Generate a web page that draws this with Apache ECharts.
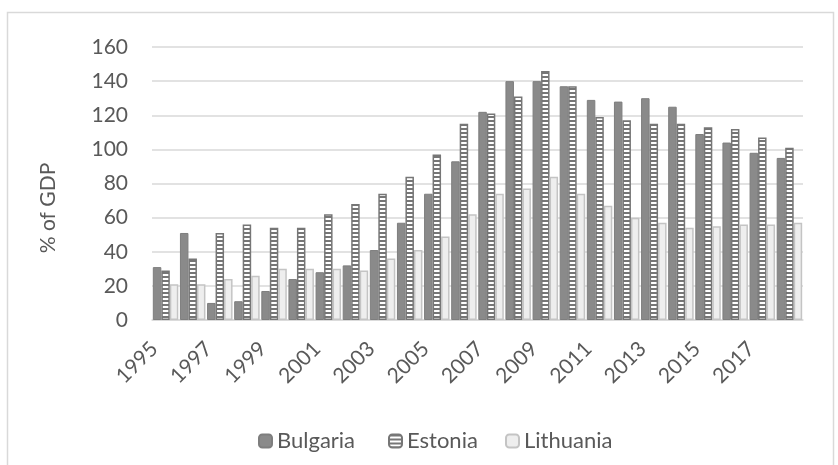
<!DOCTYPE html>
<html>
<head>
<meta charset="utf-8">
<script src="https://cdn.jsdelivr.net/npm/echarts@6/dist/echarts.min.js"></script>
<style>
  html, body { margin: 0; padding: 0; background: #ffffff; }
  #chart { width: 838px; height: 465px; }
</style>
</head>
<body>
<div id="chart"></div>
<script>
// Government debt, % of GDP
const years = ['1995','1996','1997','1998','1999','2000','2001','2002','2003','2004','2005','2006',
               '2007','2008','2009','2010','2011','2012','2013','2014','2015','2016','2017','2018'];
const bulgaria  = [31, 51, 10, 11, 17, 24, 28, 32, 41, 57, 74, 93, 122, 140, 140, 137, 129, 128, 130, 125, 109, 104, 98, 95];
const estonia   = [29, 36, 51, 56, 54, 54, 62, 68, 74, 84, 97, 115, 121, 131, 146, 137, 119, 117, 115, 115, 113, 112, 107, 101];
const lithuania = [21, 21, 24, 26, 30, 30, 30, 29, 36, 41, 49, 62, 74, 77, 84, 74, 67, 60, 57, 54, 55, 56, 56, 57];
const countries = ['Bulgaria', 'Estonia', 'Lithuania'];
const yTicks = { min: 0, max: 160, step: 20 };

const FONT = 'Lato';
const TEXT = '#595959';

// horizontal stripe fill for the Estonia bars
function stripePattern() {
  const c = document.createElement('canvas');
  c.width = 4; c.height = 4;
  const g = c.getContext('2d');
  g.fillStyle = '#ffffff';
  g.fillRect(0, 0, 4, 4);
  g.fillStyle = '#767676';
  g.fillRect(0, 0, 4, 2);
  return { image: c, repeat: 'repeat' };
}

// one legend block per country so each entry sits at its own x
const legendX = [253, 383, 500];
const legends = countries.map((name, i) => ({
  left: legendX[i], top: 425,
  itemWidth: 13, itemHeight: 13,
  textStyle: { fontSize: 22, color: TEXT, fontFamily: FONT },
  data: [name]
}));

const chart = echarts.init(document.getElementById('chart'));
chart.setOption({
  animation: false,
  backgroundColor: '#ffffff',
  textStyle: { fontFamily: FONT },
  graphic: [
    {
      type: 'rect', z: -10, silent: true,
      shape: { x: 7.5, y: 12.5, width: 826, height: 470 },
      style: { fill: '#ffffff', stroke: '#d9d9d9', lineWidth: 1.5 }
    },
    {
      type: 'text', x: 48, y: 208, rotation: Math.PI / 2,
      style: { text: '% of GDP', font: '21px ' + FONT, fill: TEXT, align: 'center', verticalAlign: 'middle' }
    }
  ],
  grid: { left: 152, right: 35, top: 47, bottom: 145 },
  legend: legends,
  xAxis: {
    type: 'category',
    data: years,
    axisTick: { show: false },
    axisLine: { lineStyle: { color: '#d9d9d9', width: 1.5 } },
    axisLabel: { interval: 1, rotate: 45, fontSize: 21, color: TEXT, fontFamily: FONT, margin: 14, padding: [0, 16, 0, 0] }
  },
  yAxis: {
    type: 'value',
    min: yTicks.min, max: yTicks.max, interval: yTicks.step,
    axisLine: { show: false },
    axisTick: { show: false },
    axisLabel: { fontSize: 21, color: TEXT, fontFamily: FONT, margin: 24 },
    splitLine: { lineStyle: { color: '#d9d9d9', width: 1.5 } }
  },
  series: [
    {
      name: countries[0], type: 'bar', data: bulgaria,
      barGap: '0%', barCategoryGap: '6%',
      itemStyle: { color: '#8a8a8a', borderColor: '#7e7e7e', borderWidth: 1 }
    },
    {
      name: countries[1], type: 'bar', data: estonia,
      itemStyle: { color: stripePattern(), borderColor: '#767676', borderWidth: 1.5 }
    },
    {
      name: countries[2], type: 'bar', data: lithuania,
      itemStyle: { color: '#eeeeee', borderColor: '#c4c4c4', borderWidth: 1.5 }
    }
  ]
});
</script>
</body>
</html>
